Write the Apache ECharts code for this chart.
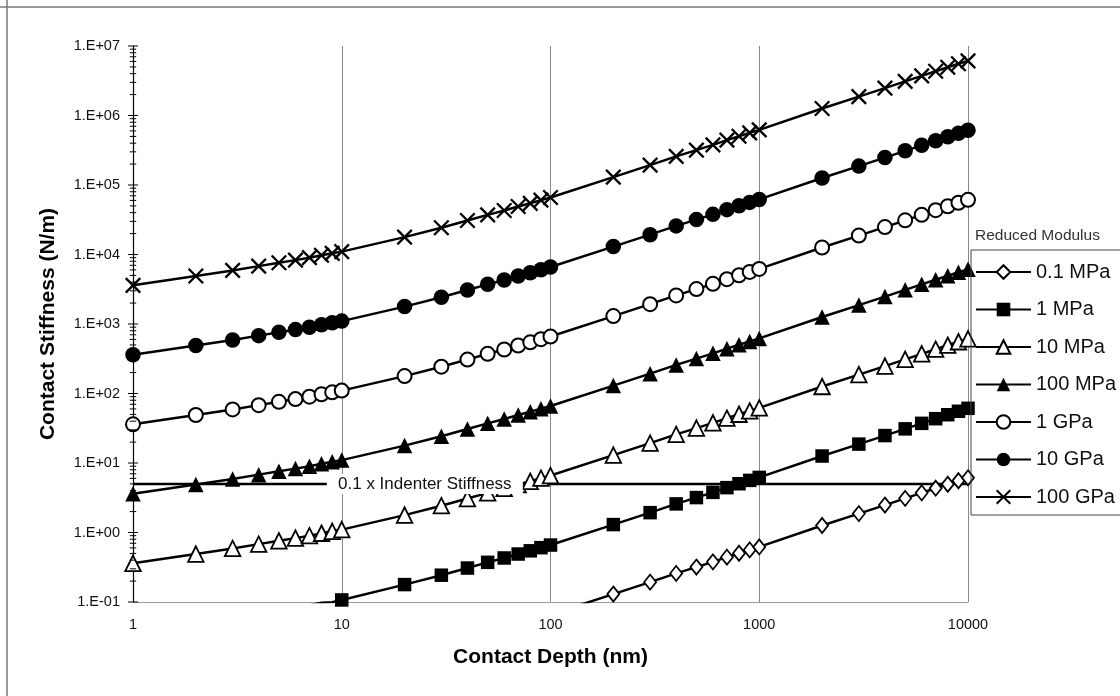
<!DOCTYPE html>
<html><head><meta charset="utf-8">
<script src="https://cdn.jsdelivr.net/npm/echarts@6/dist/echarts.min.js"></script>
<style>html,body{margin:0;padding:0;background:#fff}#c{width:1120px;height:696px}</style>
</head><body><div id="c"></div>
<script>
// ---- data ----
const depth = [1,2,3,4,5,6,7,8,9,10, 20,30,40,50,60,70,80,90,100, 200,300,400,500,600,700,800,900,1000, 2000,3000,4000,5000,6000,7000,8000,9000,10000];
const xTickLabels = ['1','10','100','1000','10000'];
const yTickLabels = ['1.E-01','1.E+00','1.E+01','1.E+02','1.E+03','1.E+04','1.E+05','1.E+06','1.E+07'];
const seriesNames = ['0.1 MPa','1 MPa','10 MPa','100 MPa','1 GPa','10 GPa','100 GPa'];
const s01MPa = [0.0036,0.0049,0.0059,0.0068,0.0076,0.0083,0.0090,0.00975,0.0104,0.0110, 0.0178,0.0243,0.0308,0.0372,0.0430,0.0490,0.0545,0.0605,0.0660, 0.130,0.193,0.258,0.318,0.378,0.442,0.503,0.562,0.620, 1.26,1.87,2.48,3.10,3.72,4.34,4.95,5.55,6.12];
const s1MPa = [0.036,0.049,0.059,0.068,0.076,0.083,0.090,0.0975,0.099,0.107, 0.178,0.243,0.308,0.372,0.430,0.490,0.545,0.605,0.660, 1.30,1.93,2.58,3.18,3.78,4.42,5.03,5.62,6.20, 12.6,18.7,24.8,31.0,37.2,43.4,49.5,55.5,61.2];
const s10MPa = [0.36,0.49,0.59,0.68,0.76,0.83,0.90,0.975,1.04,1.10, 1.78,2.43,3.08,3.72,4.30,4.90,5.45,6.05,6.60, 13.0,19.3,25.8,31.8,37.8,44.2,50.3,56.2,62.0, 126,187,248,310,372,434,495,555,612];
const s100MPa = [3.6,4.9,5.9,6.8,7.6,8.3,9.0,9.75,10.4,11.0, 17.8,24.3,30.8,37.2,43.0,49.0,54.5,60.5,66.0, 130,193,258,318,378,442,503,562,620, 1260,1870,2480,3100,3720,4340,4950,5550,6120];
const s1GPa = [36,49,59,68,76,83,90,97.5,104,110, 178,243,308,372,430,490,545,605,660, 1300,1930,2580,3180,3780,4420,5030,5620,6200, 12600,18700,24800,31000,37200,43400,49500,55500,61200];
const s10GPa = [360,490,590,680,760,830,900,975,1040,1100, 1780,2430,3080,3720,4300,4900,5450,6050,6600, 13000,19300,25800,31800,37800,44200,50300,56200,62000, 126000,187000,248000,310000,372000,434000,495000,555000,612000];
const s100GPa = [3600,4900,5900,6800,7600,8300,9000,9750,10400,11000, 17800,24300,30800,37200,43000,49000,54500,60500,66000, 130000,193000,258000,318000,378000,442000,503000,562000,620000, 1260000,1870000,2480000,3100000,3720000,4340000,4950000,5550000,6120000];
const indenterX = [1, 10000];
const indenterY = [5, 5];
const indenterLabel = '0.1 x Indenter Stiffness';
const legendTitle = 'Reduced Modulus';
const xName = 'Contact Depth (nm)';
const yName = 'Contact Stiffness (N/m)';

// ---- chart ----
const FONT = 'Liberation Sans, Arial, sans-serif';
const seriesValues = [s01MPa, s1MPa, s10MPa, s100MPa, s1GPa, s10GPa, s100GPa];
const X_PATH = 'path://M0,0L10,10M10,0L0,10';
const styles = [
  {symbol:'diamond', size:[12,15], fill:'#fff', bw:1.8},
  {symbol:'rect', size:13.5, fill:'#000', bw:0},
  {symbol:'triangle', size:15.5, fill:'#fff', bw:1.8},
  {symbol:'triangle', size:15.5, fill:'#000', bw:0},
  {symbol:'circle', size:14, fill:'#fff', bw:2},
  {symbol:'circle', size:15.5, fill:'#000', bw:0},
  {symbol:X_PATH, size:14.5, fill:'#000', bw:2.3}
];

const series = seriesNames.map((name, k) => ({
  name, type:'line', clip:true,
  data: depth.map((x, i) => [x, seriesValues[k][i]]),
  symbol: styles[k].symbol, symbolSize: styles[k].size,
  showAllSymbol: true,
  itemStyle: {color: styles[k].fill, borderColor:'#000', borderWidth: styles[k].bw},
  lineStyle: {color:'#000', width:2.5},
  emphasis: {disabled:true}, silent:true, z:3
}));

series.push({
  name:'indenter', type:'line', clip:true,
  data: indenterX.map((x, i) => [x, indenterY[i]]),
  symbol:'none', lineStyle:{color:'#000', width:2.5}, silent:true, z:2,
  markPoint: {
    silent:true, animation:false,
    data:[{coord:[25, 5], symbol:'rect', symbolSize:[196, 20],
      itemStyle:{color:'#fff'},
      label:{show:true, position:'inside', formatter: indenterLabel, color:'#111', fontSize:17, fontFamily:FONT}}]
  }
});

// y-axis tick marks (major and log minor), crossing the axis line
const tickData = [];
for (let e = -1; e <= 7; e++) {
  tickData.push([1, Math.pow(10, e), 1]);
  if (e < 7) for (let m = 2; m <= 9; m++) tickData.push([1, m * Math.pow(10, e), 0]);
}
series.push({
  type:'custom', name:'ticks', silent:true, clip:false, z:4,
  encode:{x:0, y:1},
  data: tickData,
  renderItem: (params, api) => {
    const p = api.coord([api.value(0), api.value(1)]);
    const h = api.value(2) ? 5 : 3.2;
    return {type:'line', shape:{x1:p[0]-h, y1:p[1], x2:p[0]+h, y2:p[1]}, style:{stroke:'#000', lineWidth:1}};
  }
});

const chart = echarts.init(document.getElementById('c'), null, {renderer:'canvas'});
chart.setOption({
  animation:false,
  backgroundColor:'#fff',
  grid:{left:133, right:152, top:46, bottom:94, containLabel:false},
  xAxis:{
    type:'log', logBase:10, min:1, max:10000, interval:1,
    name:xName, nameLocation:'middle', nameGap:45,
    nameTextStyle:{fontSize:21, fontWeight:'bold', fontFamily:FONT, color:'#000'},
    axisLine:{lineStyle:{color:'#999', width:1}},
    axisTick:{show:false},
    axisLabel:{margin:15, fontSize:14.5, fontFamily:FONT, color:'#111',
      formatter: v => xTickLabels[Math.round(Math.log10(v))]},
    splitLine:{show:true, lineStyle:{color:'#888', width:1}}
  },
  yAxis:{
    type:'log', logBase:10, min:0.1, max:1e7, interval:1,
    name:yName, nameLocation:'middle', nameGap:74,
    nameTextStyle:{fontSize:21, fontWeight:'bold', fontFamily:FONT, color:'#000'},
    axisLine:{show:true, lineStyle:{color:'#000', width:1.2}},
    axisTick:{show:false},
    axisLabel:{margin:13, fontSize:14.5, fontFamily:FONT, color:'#111',
      formatter: v => yTickLabels[Math.round(Math.log10(v)) + 1]},
    splitLine:{show:false}
  },
  legend:{
    data: seriesNames, orient:'vertical', left:971, top:250,
    itemWidth:55, itemHeight:17, itemGap:17.5,
    padding:[12, 60, 8, 4], borderColor:'#444', borderWidth:1,
    selectedMode:false,
    textStyle:{fontSize:20, fontFamily:FONT, color:'#111', lineHeight:20}
  },
  graphic:[
    {type:'text', left:975, top:228, style:{text:legendTitle, fontSize:15.5, fontFamily:FONT, fill:'#333'}},
    {type:'line', shape:{x1:7, y1:0, x2:7, y2:696}, style:{stroke:'#777', lineWidth:1.5}},
    {type:'line', shape:{x1:0, y1:7, x2:1120, y2:7}, style:{stroke:'#777', lineWidth:1.5}}
  ],
  series
});
</script></body></html>
